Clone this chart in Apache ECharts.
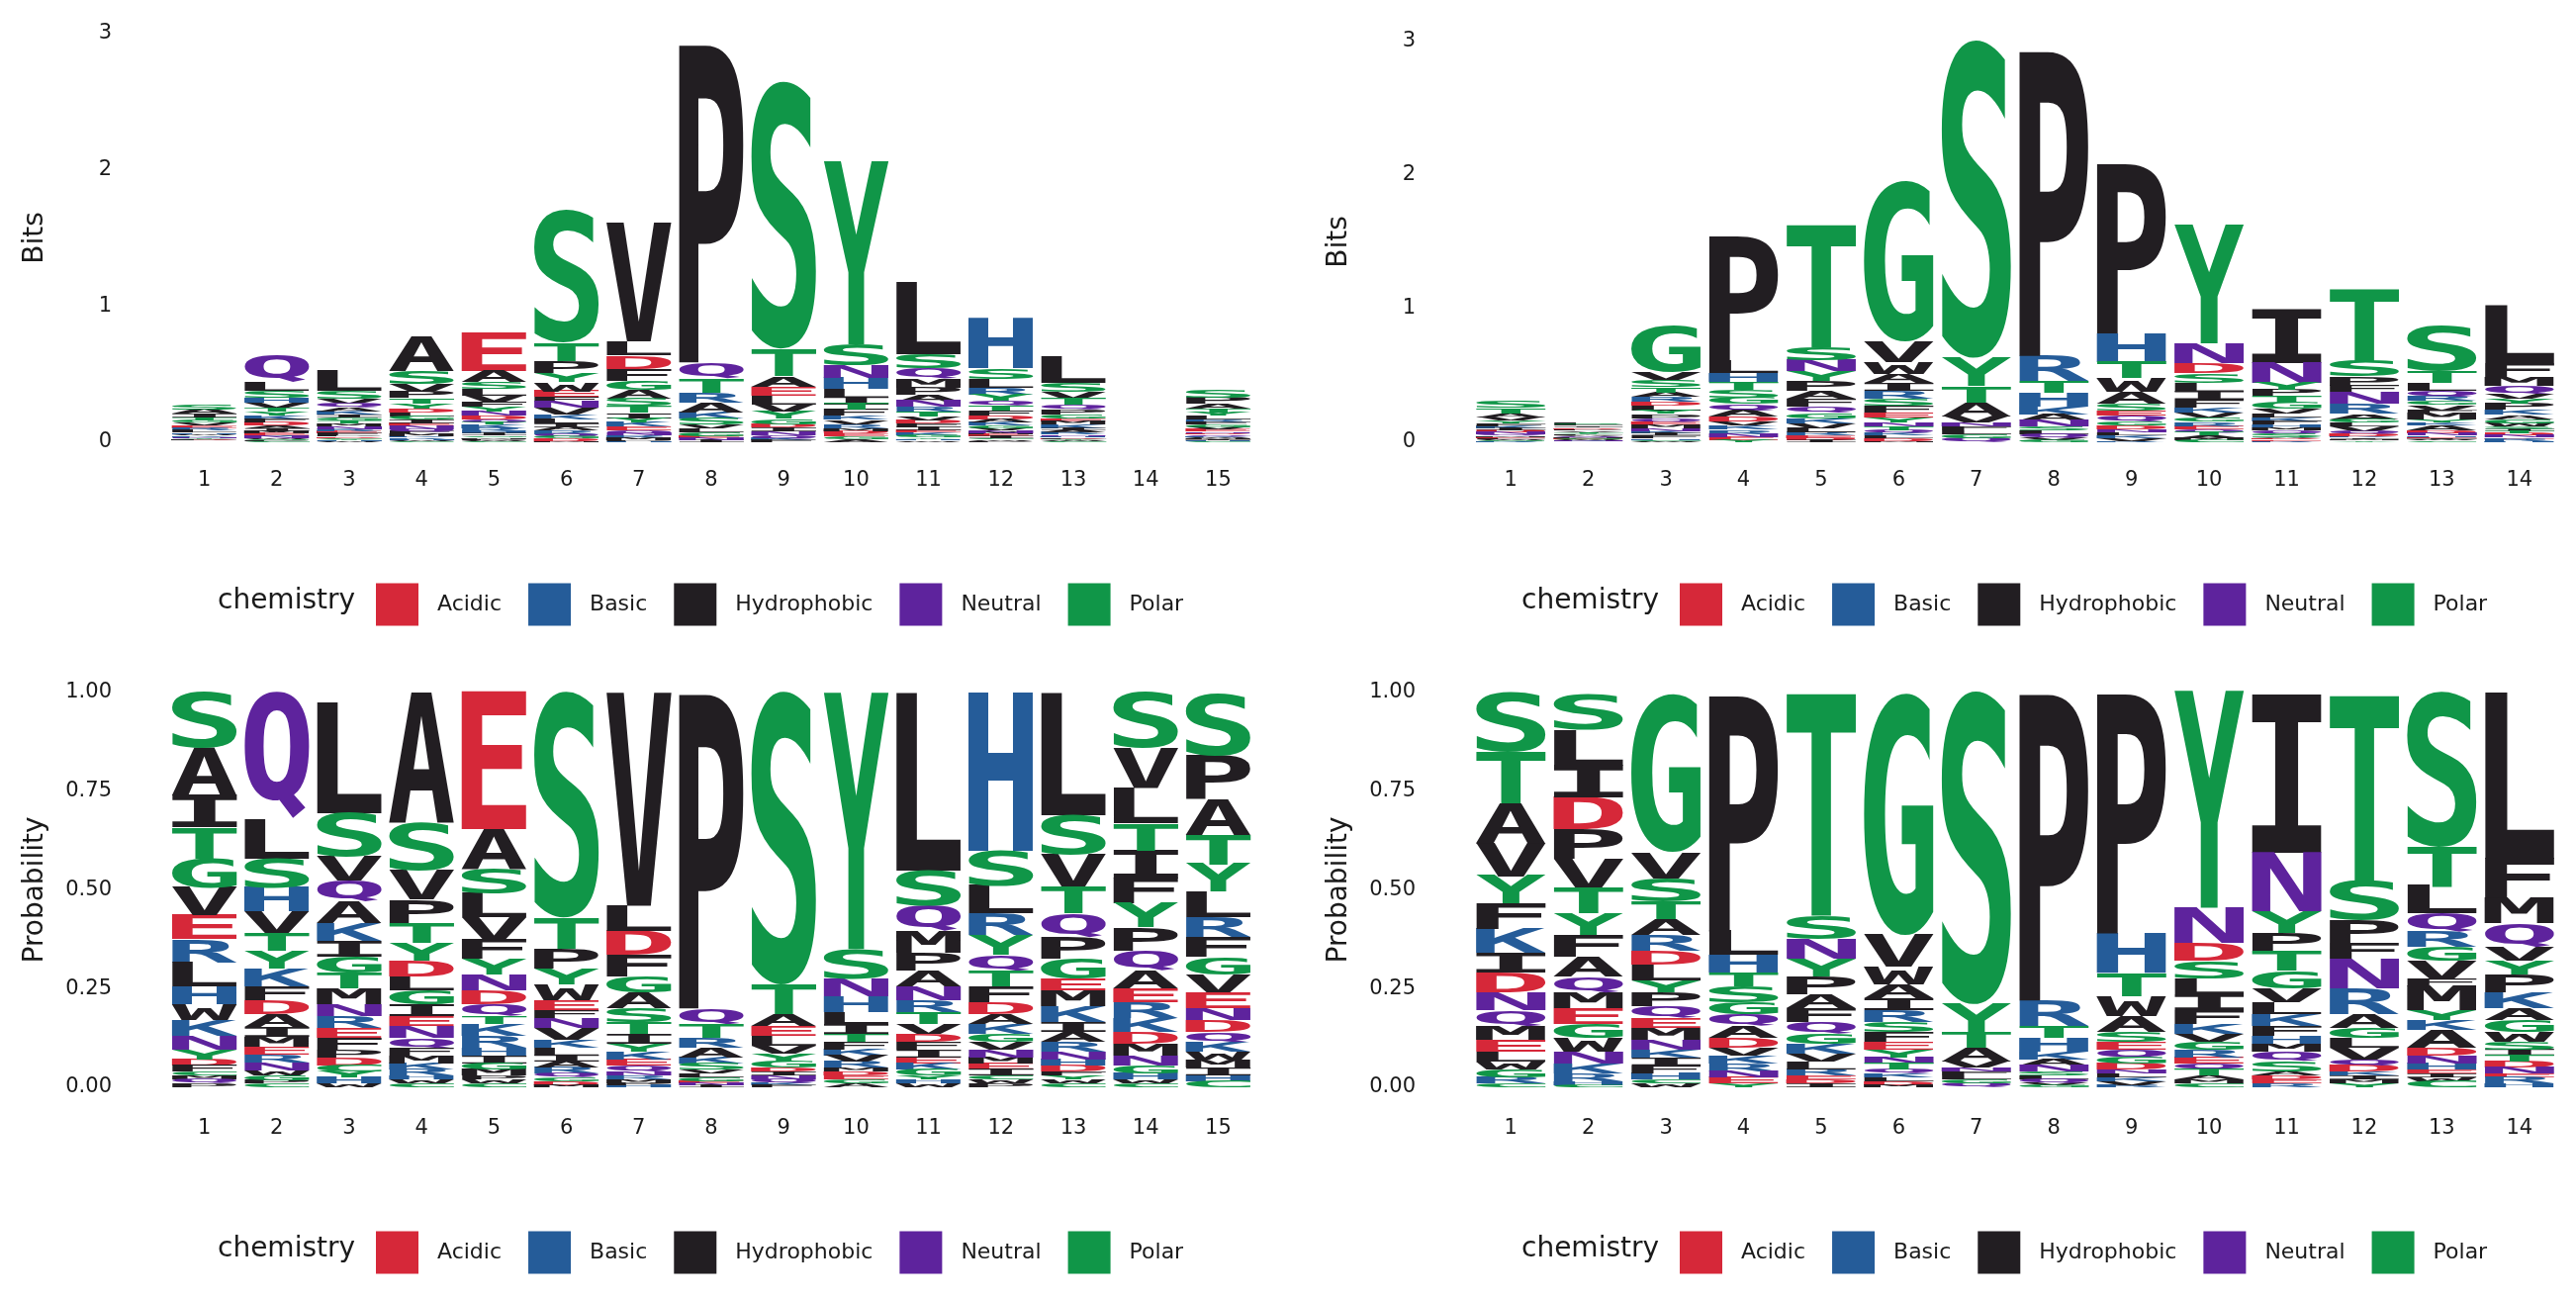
<!DOCTYPE html>
<html>
<head>
<meta charset="utf-8">
<script src="https://cdn.jsdelivr.net/npm/echarts@6/dist/echarts.min.js"></script>
<style>
html,body{margin:0;padding:0;background:#fff}
#main{width:2604px;height:1313px}
</style>
</head>
<body>
<div id="main"></div>
<script>
// positions
var leftPositions = ['1','2','3','4','5','6','7','8','9','10','11','12','13','14','15'];
var rightPositions = ['1','2','3','4','5','6','7','8','9','10','11','12','13','14'];

// letters of each column, top to bottom
var leftLetters = [
  'SAITGVERLHWKNYDFCMQP', 'QLSHVTYKFDAIMERNWGPC', 'LSVQAKIGTMNREFPDCYHW',
  'ASVPTYDLGIENQFMKRHWC', 'EASLVFYNDQTKRHIGMPWC', 'STPYWEFNVKLIARQGDM',
  'VLDFGASTIYKEQNRMPH', 'PQTRAKSVLGENI', 'STAELVYGDINQKF',
  'YSNHLITFKVRMDEGA', 'LSQMPANRTVDFIEKGYHW', 'HSLRYQTFDAKGVNMEICWP',
  'LSVTQPGEMKIARNHDFYWC', 'SVLTIFYPQAERKDMNGHWC', 'SPATYLRFGVENDQKWMIHC'
];
var leftProbs = [
  [.14,.12,.08,.08,.075,.07,.06,.06,.06,.045,.04,.04,.035,.025,.015,.015,.01,.01,.01,.01],
  [.32,.10,.075,.06,.055,.045,.045,.045,.035,.035,.033,.025,.025,.02,.02,.02,.012,.012,.008,.01],
  [.28,.11,.06,.055,.055,.045,.04,.04,.04,.04,.03,.03,.025,.03,.02,.02,.015,.015,.015,.01],
  [.33,.12,.075,.06,.05,.045,.04,.035,.035,.03,.025,.03,.025,.02,.02,.015,.015,.01,.01,.01],
  [.35,.10,.065,.06,.055,.05,.04,.04,.035,.03,.02,.03,.03,.02,.02,.015,.015,.01,.01,.01],
  [.57,.08,.05,.04,.04,.025,.02,.025,.03,.02,.02,.015,.015,.015,.01,.01,.01,.005],
  [.54,.065,.06,.055,.04,.04,.035,.03,.025,.02,.02,.015,.015,.01,.01,.01,.005,.005],
  [.80,.04,.035,.025,.025,.015,.015,.01,.01,.01,.005,.005,.005],
  [.74,.075,.03,.025,.025,.02,.02,.015,.01,.01,.01,.01,.005,.005],
  [.65,.075,.045,.04,.03,.025,.02,.02,.015,.015,.015,.01,.01,.01,.01,.01],
  [.45,.09,.065,.055,.045,.04,.035,.03,.03,.025,.02,.02,.02,.015,.015,.015,.01,.01,.01],
  [.40,.09,.07,.055,.05,.04,.04,.04,.03,.025,.025,.02,.02,.02,.015,.015,.015,.01,.01,.01],
  [.31,.10,.08,.07,.06,.055,.05,.03,.04,.04,.025,.025,.025,.02,.015,.015,.01,.01,.01,.01],
  [.14,.10,.09,.07,.07,.065,.06,.06,.05,.045,.035,.04,.035,.03,.03,.025,.02,.015,.01,.01],
  [.16,.11,.09,.075,.07,.065,.05,.05,.045,.045,.04,.03,.03,.025,.025,.02,.02,.02,.015,.015]
];
// information content of each column (bits)
var leftBits = [0.28, 0.65, 0.54, 0.78, 0.80, 1.70, 1.61, 2.93, 2.64, 2.06, 1.18, 0.91, 0.63, 0.01, 0.39];

var rightLetters = [
  'STAVYFKIDNQMELWGRC', 'SLIDPVTYFAQMEGWNKRHC', 'GVSTARDLYPQEMNKIFHCW',
  'PLHTSGQADVKRNEY', 'TSNYPAFQGKVLREDI', 'GVWAIRSFEYNTQKLDM',
  'SYTAVNFLGQ', 'PRTHKANSLQVG', 'PHTWASEQGDNLKVR',
  'YNDSLIFKVGREQTAMC', 'INYPTGVLKFHMQSADER', 'TSPFNRAGLVQDKIMY',
  'STLQRGVFMYKADNHEIWC', 'LFMQVYPKAGWSITDNERH'
];
var rightProbs = [
  [.15,.13,.10,.085,.07,.065,.06,.05,.05,.045,.04,.035,.03,.025,.02,.02,.015,.01],
  [.09,.09,.08,.08,.075,.075,.065,.055,.055,.05,.04,.04,.04,.035,.035,.03,.025,.02,.01,.005],
  [.40,.065,.06,.045,.04,.04,.035,.04,.03,.035,.03,.025,.03,.025,.02,.02,.02,.015,.01,.01],
  [.60,.06,.045,.035,.04,.03,.03,.03,.025,.02,.02,.02,.015,.015,.01],
  [.565,.06,.05,.045,.045,.035,.035,.03,.025,.025,.02,.02,.015,.01,.01,.01],
  [.61,.08,.045,.035,.03,.03,.025,.025,.02,.02,.015,.015,.01,.01,.01,.01,.005],
  [.79,.07,.04,.035,.015,.01,.01,.01,.01,.01],
  [.78,.065,.03,.035,.02,.015,.015,.01,.01,.01,.005,.005],
  [.61,.10,.06,.05,.04,.025,.02,.02,.015,.015,.01,.01,.01,.01,.005],
  [.55,.09,.045,.045,.04,.04,.035,.025,.02,.02,.02,.015,.015,.015,.01,.01,.01],
  [.40,.15,.055,.045,.05,.045,.035,.03,.03,.025,.02,.02,.025,.025,.01,.01,.01,.01],
  [.47,.10,.06,.04,.075,.065,.035,.025,.025,.03,.015,.015,.01,.01,.01,.01],
  [.39,.10,.07,.045,.04,.035,.045,.02,.06,.025,.025,.045,.02,.02,.015,.01,.01,.01,.015],
  [.42,.10,.065,.06,.035,.035,.045,.04,.03,.03,.025,.02,.015,.015,.015,.015,.01,.015,.01]
];
var rightBits = [0.30, 0.15, 0.88, 1.55, 1.63, 1.96, 3.00, 2.94, 2.08, 1.62, 1.00, 1.16, 0.87, 1.02];

var classNames = ['Acidic', 'Basic', 'Hydrophobic', 'Neutral', 'Polar'];
var classColors = ['#D62839', '#255C99', '#221E22', '#5E239D', '#109648'];
var classLetters = ['DE', 'KRH', 'AVLIPWFM', 'QN', 'GSTYC'];

var LETTER_FONT = 'bold 200px "DejaVu Sans Mono"';
var TEXT_FONT = '"DejaVu Sans"';
var TEXT_COLOR = '#1a1a1a';

// glyph ink box, measured once per letter, so each letter can be stretched into its cell
var measureCtx = document.createElement('canvas').getContext('2d');
var glyphCache = {};
function glyph(ch) {
  if (!glyphCache[ch]) {
    measureCtx.font = LETTER_FONT;
    measureCtx.textAlign = 'left';
    measureCtx.textBaseline = 'middle';
    var m = measureCtx.measureText(ch);
    glyphCache[ch] = {
      l: m.actualBoundingBoxLeft, r: m.actualBoundingBoxRight,
      a: m.actualBoundingBoxAscent, d: m.actualBoundingBoxDescent
    };
  }
  return glyphCache[ch];
}

function classOf(ch) {
  for (var k = 0; k < classLetters.length; k++) {
    if (classLetters[k].indexOf(ch) >= 0) return k;
  }
  return 2;
}

// stack the letters of every column, smallest at the bottom
function stackLogo(letters, probs, bits) {
  var out = classNames.map(function () { return []; });
  letters.forEach(function (str, i) {
    var k = bits ? bits[i] : 1;
    var y = 0;
    for (var j = str.length - 1; j >= 0; j--) {
      var h = probs[i][j] * k;
      out[classOf(str[j])].push([i, y, y + h, str[j]]);
      y += h;
    }
  });
  return out;
}

function letterSeries(items, cls, idx) {
  var color = classColors[cls];
  return {
    type: 'custom',
    name: classNames[cls],
    xAxisIndex: idx,
    yAxisIndex: idx,
    itemStyle: { color: color },
    clip: false,
    silent: true,
    encode: { x: 0, y: [1, 2] },
    data: items.map(function (d) { return [d[0], d[1], d[2]]; }),
    renderItem: function (params, api) {
      var d = items[params.dataIndex];
      var p0 = api.coord([d[0], d[1]]);
      var p1 = api.coord([d[0], d[2]]);
      var bw = api.size([1, 0])[0] * 0.9;
      var h = p0[1] - p1[1];
      if (h < 0.25) return null;
      var g = glyph(d[3]);
      var sx = bw / (g.l + g.r);
      var sy = h / (g.a + g.d);
      return {
        type: 'text',
        x: p0[0] - bw / 2 + g.l * sx,
        y: p1[1] + g.a * sy,
        scaleX: sx,
        scaleY: sy,
        style: {
          text: d[3], x: 0, y: 0, font: LETTER_FONT, fill: color,
          align: 'left', verticalAlign: 'middle',
          textAlign: 'left', textVerticalAlign: 'middle'
        }
      };
    }
  };
}

var panels = [
  { letters: leftLetters, probs: leftProbs, bits: leftBits, pos: leftPositions, grid: { left: 170, top: 34, width: 1098, height: 413 } },
  { letters: rightLetters, probs: rightProbs, bits: rightBits, pos: rightPositions, grid: { left: 1488, top: 42, width: 1098, height: 405 } },
  { letters: leftLetters, probs: leftProbs, bits: null, pos: leftPositions, grid: { left: 170, top: 700, width: 1098, height: 399 } },
  { letters: rightLetters, probs: rightProbs, bits: null, pos: rightPositions, grid: { left: 1488, top: 700, width: 1098, height: 399 } }
];

var grids = [], xAxes = [], yAxes = [], series = [], legends = [], graphics = [];
panels.forEach(function (p, idx) {
  var isBits = !!p.bits;
  grids.push(Object.assign({ outerBoundsMode: 'none', containLabel: false }, p.grid));
  xAxes.push({
    type: 'category', gridIndex: idx, data: p.pos,
    axisLine: { show: false }, axisTick: { show: false }, splitLine: { show: false },
    axisLabel: { interval: 0, margin: isBits ? 28 : 31, fontFamily: TEXT_FONT, fontSize: 21, color: TEXT_COLOR }
  });
  yAxes.push({
    type: 'value', gridIndex: idx, min: 0, max: isBits ? 3 : 1, interval: isBits ? 1 : 0.25,
    name: isBits ? 'Bits' : 'Probability', nameLocation: 'middle', nameRotate: 90, nameGap: 120,
    nameTextStyle: { fontFamily: TEXT_FONT, fontSize: 28, color: TEXT_COLOR },
    axisLine: { show: false }, axisTick: { show: false }, splitLine: { show: false },
    axisLabel: {
      margin: 57, fontFamily: TEXT_FONT, fontSize: 21, color: TEXT_COLOR,
      formatter: function (v) { return isBits ? String(v) : v.toFixed(2); }
    }
  });
  var stacks = stackLogo(p.letters, p.probs, p.bits);
  stacks.forEach(function (items, cls) { series.push(letterSeries(items, cls, idx)); });

  var offX = p.grid.left - 170;
  var legendY = isBits ? 611 : 1266;
  legends.push({
    data: classNames, left: 375 + offX, top: legendY - 26.5, orient: 'horizontal',
    padding: 5, icon: 'rect', itemWidth: 43, itemHeight: 43, itemGap: 27,
    selectedMode: false,
    textStyle: { fontFamily: TEXT_FONT, fontSize: 22, color: TEXT_COLOR, padding: [0, 0, 0, 14] }
  });
  graphics.push({
    type: 'text', left: 220 + offX, top: legendY - 17,
    style: { text: 'chemistry', font: '28px ' + TEXT_FONT, fill: TEXT_COLOR }
  });
});

var chart = echarts.init(document.getElementById('main'));
chart.setOption({
  backgroundColor: '#ffffff',
  animation: false,
  grid: grids,
  xAxis: xAxes,
  yAxis: yAxes,
  legend: legends,
  graphic: graphics,
  series: series
});
</script>
</body>
</html>
